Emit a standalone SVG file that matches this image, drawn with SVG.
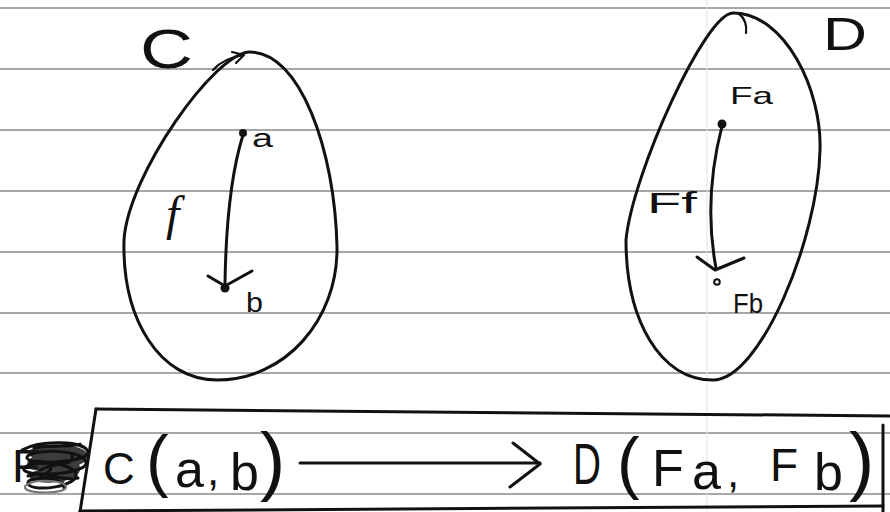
<svg xmlns="http://www.w3.org/2000/svg" width="890" height="512" viewBox="0 0 890 512">
<style>
.rule{stroke:#8a8a8a;stroke-width:1.5;fill:none}
.ink{stroke:#111;stroke-width:3;fill:none;stroke-linecap:round;stroke-linejoin:round}
.thin{stroke:#111;stroke-width:2.2;fill:none;stroke-linecap:round;stroke-linejoin:round}
.hand{font-family:"Liberation Sans","DejaVu Sans",sans-serif;fill:#111}
.dot{fill:#111}
</style>
<rect width="890" height="512" fill="#ffffff"/>
<g id="paper">
<line class="rule" x1="0" y1="8" x2="890" y2="8"/>
<line class="rule" x1="0" y1="69" x2="890" y2="69"/>
<line class="rule" x1="0" y1="130" x2="890" y2="130"/>
<line class="rule" x1="0" y1="191" x2="890" y2="191"/>
<line class="rule" x1="0" y1="252" x2="890" y2="252"/>
<line class="rule" x1="0" y1="313" x2="890" y2="313"/>
<line class="rule" x1="0" y1="373" x2="890" y2="373"/>
<line class="rule" x1="0" y1="433" x2="890" y2="433"/>
<line class="rule" x1="0" y1="494" x2="890" y2="494"/>
<line x1="707" y1="0" x2="707" y2="512" stroke="#e4e4e4" stroke-width="1"/>
</g>
<g id="node-C">
<path class="ink" d="M250,52 C300,52 335,150 337,247 C338,320 285,380 217,380 C160,380 122,320 124,240 C128,175 215,52 250,52 Z"/>
<text class="hand" x="140" y="68" font-size="56" textLength="53" lengthAdjust="spacingAndGlyphs">C</text>
<path class="thin" d="M213,70 C220,62 230,57 244,55 M232,52 L244,55 L236,63"/>
</g>
<g id="node-D">
<path class="ink" d="M733,13 C785,13 822,90 820,150 C818,240 760,380 713,380 C660,380 626,320 626,240 C632,175 705,13 733,13 Z"/>
<path class="thin" d="M739,14 C745,18 747,26 746,33"/>
<text class="hand" x="823" y="50" font-size="46" textLength="44" lengthAdjust="spacingAndGlyphs">D</text>
</g>
<g id="node-a">
<circle class="dot" cx="243" cy="133" r="4"/>
<text class="hand" x="252" y="147" font-size="26" textLength="21" lengthAdjust="spacingAndGlyphs">a</text>
</g>
<g id="node-b">
<circle class="dot" cx="225" cy="288" r="4.5"/>
<text class="hand" x="246" y="312" font-size="27" textLength="17" lengthAdjust="spacingAndGlyphs">b</text>
</g>
<g id="node-Fa">
<circle class="dot" cx="722" cy="124" r="4.5"/>
<text class="hand" x="730" y="104" font-size="24" textLength="43" lengthAdjust="spacingAndGlyphs">Fa</text>
</g>
<g id="node-Fb">
<circle cx="717" cy="282" r="2.8" fill="none" stroke="#111" stroke-width="2"/>
<text class="hand" x="733" y="313" font-size="28" textLength="30" lengthAdjust="spacingAndGlyphs">Fb</text>
</g>
<g id="connectors">
<path class="ink" d="M243,135 C232,170 226,220 225,283"/>
<path class="ink" d="M208,276 L225,286 L252,271"/>
<text x="166" y="230" font-family="Liberation Serif, serif" font-style="italic" font-size="48" fill="#111">f</text>
<path class="ink" d="M722,126 C712,165 706,215 716,268"/>
<path class="ink" d="M697,257 L715,270 L744,258"/>
<text class="hand" x="647" y="213" font-size="30" textLength="50" lengthAdjust="spacingAndGlyphs">Ff</text>
<path class="ink" d="M300,463 L540,463"/>
<path class="ink" d="M513,443 L540,464 L510,487"/>
</g>
<g id="node-box">
<path class="ink" d="M96,409 L890,416"/>
<path class="ink" d="M96,409 L80,512"/>
<path class="ink" d="M80,511 L883,506"/>
<path class="ink" d="M883,425 L883,512"/>
<text class="hand" x="12" y="482" font-size="46">F</text>
<path d="M26,452 C45,440 88,444 88,456 C88,468 50,472 34,470 C24,468 24,458 40,455 C60,452 82,458 80,470 C78,482 44,486 32,480 C26,476 34,468 50,468 C66,468 70,478 62,484 Z" fill="#1a1a1a" opacity="0.85"/>
<path d="M22,450 C40,440 85,440 88,452 C90,462 30,466 27,458 C25,450 80,447 86,462 C89,474 30,478 24,470 C21,461 72,460 76,474 C79,486 34,493 28,484 C24,476 66,476 64,488 M40,470 C55,462 75,466 72,456 M30,462 C50,458 60,470 40,476 M34,448 C55,444 72,448 80,444 M28,476 C45,470 60,482 78,478" fill="none" stroke="#111" stroke-width="3" stroke-linecap="round"/>
<path d="M25,486 C35,478 65,480 66,487 C66,494 28,494 25,488 Z" fill="none" stroke="#777" stroke-width="2"/>
<text class="hand" y="484">
<tspan x="103" font-size="44">C</tspan><tspan x="146" y="484" font-size="68">(</tspan><tspan x="175" y="487" font-size="52">a</tspan><tspan x="207" y="485" font-size="44">,</tspan><tspan x="230" y="490" font-size="52">b</tspan><tspan x="260" y="486" font-size="76">)</tspan>
</text>
<text class="hand" y="484">
<tspan x="573" font-size="58" textLength="28" lengthAdjust="spacingAndGlyphs">D</tspan><tspan x="617" y="486" font-size="68">(</tspan><tspan x="652" y="486" font-size="52">F</tspan><tspan x="692" y="489" font-size="52">a</tspan><tspan x="727" y="487" font-size="44">,</tspan><tspan x="770" y="481" font-size="46">F</tspan><tspan x="814" y="490" font-size="52">b</tspan><tspan x="849" y="486" font-size="76">)</tspan>
</text>
</g>
</svg>
